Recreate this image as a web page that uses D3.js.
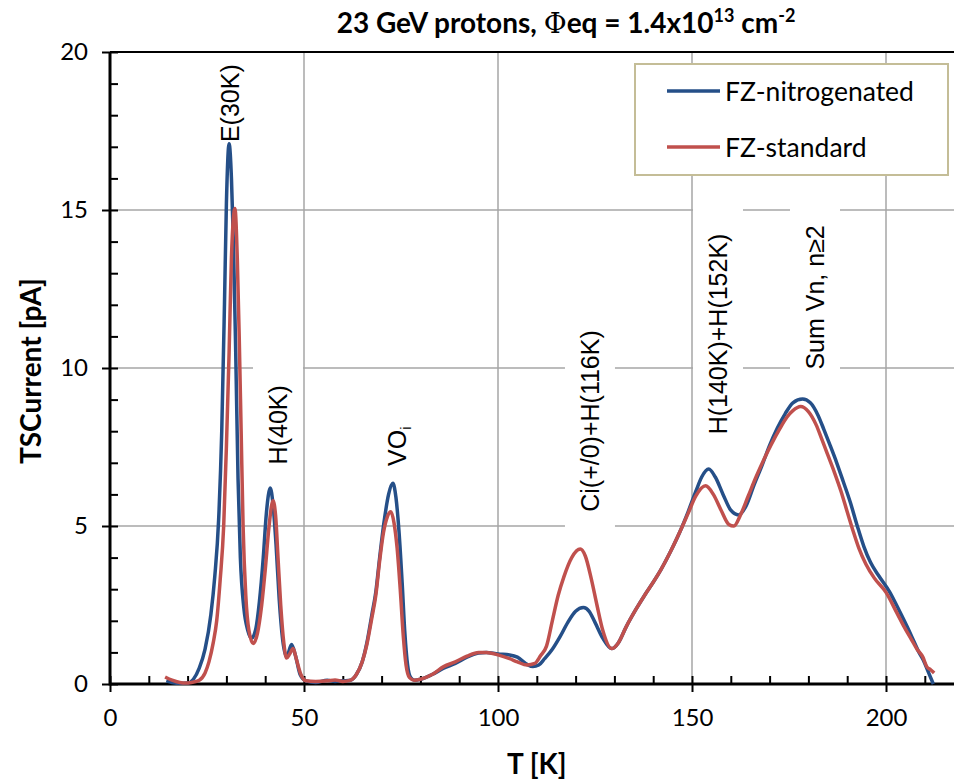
<!DOCTYPE html>
<html>
<head>
<meta charset="utf-8">
<script src="https://cdn.jsdelivr.net/npm/d3@7"></script>
<style>
  body { margin: 0; background: #fff; }
  svg { display: block; }
</style>
</head>
<body>
<div class="tsc"></div>
<script>
// TSC spectra, [T in K, current in pA]
var nitroData = [
  [14.5,0.1],[16,0.05],[18,0.02],[20,0.03],[21.5,0.15],[23,0.5],[24.5,1.1],[26,2.2],[27,3.4],
  [28,5.2],[28.8,8.0],[29.5,12],[30,15.2],[30.7,17.1],[31.3,16],[31.8,14],[32.4,10.5],[33,6.5],
  [33.6,4],[34.5,2.4],[35.5,1.7],[36.5,1.45],[37.5,1.7],[38.5,2.6],[39.5,4],[40.3,5.4],[41.3,6.2],
  [42,5.7],[42.8,4.4],[43.6,2.7],[44.5,1.4],[45.5,0.86],[46.8,1.25],[47.8,0.9],[49,0.3],[50.5,0.1],
  [53,0.05],[56,0.12],[58,0.08],[60,0.1],[62,0.12],[63.5,0.3],[65,0.7],[66.2,1.3],[67.5,2.2],
  [68.5,2.9],[69.5,4],[70.6,5.1],[71.8,6.0],[72.9,6.35],[73.7,5.9],[74.5,4.8],[75.3,3.2],[76,1.6],
  [76.7,0.6],[77.5,0.2],[78.5,0.12],[80,0.15],[83,0.3],[86,0.5],[89,0.65],[92,0.85],[95,0.98],
  [97,1.0],[100,0.95],[103,0.92],[105,0.85],[107.5,0.62],[109,0.55],[110.5,0.6],[112,0.8],
  [114,1.1],[116,1.5],[118,1.95],[120,2.3],[122,2.42],[123.5,2.3],[125,1.95],[127,1.45],
  [129.3,1.12],[131,1.3],[133,1.8],[135.5,2.35],[138,2.85],[140,3.22],[142,3.62],[144.5,4.2],
  [147,4.85],[149,5.45],[151,6.1],[152.5,6.55],[154.3,6.8],[156,6.55],[158,6.0],[160,5.5],
  [162,5.35],[164,5.65],[166,6.3],[168,6.9],[170,7.55],[172,8.1],[174,8.55],[176,8.9],
  [178.5,9.02],[180.5,8.9],[182.5,8.5],[184,8.05],[185.6,7.55],[187.3,7.0],[189,6.4],
  [190.8,5.75],[192.6,5.0],[194.3,4.35],[196,3.85],[198,3.45],[201,2.9],[203.5,2.3],
  [205.5,1.8],[207,1.4],[208.5,1.0],[209.6,0.76],[211,0.35],[212.2,0.0]
];

var standardData = [
  [14.2,0.22],[16,0.12],[18,0.05],[19.5,0.03],[21,0.05],[23,0.12],[24.5,0.35],[25.5,0.7],
  [26.6,1.3],[27.5,2.0],[28.4,3.3],[29.3,5],[30,7.5],[30.7,10.5],[31.3,13.5],[32.2,15.05],
  [32.8,13.5],[33.3,11],[33.8,8],[34.3,5],[35,2.8],[35.8,1.7],[36.9,1.28],[38,1.6],[39,2.4],
  [40,3.6],[41,5.0],[42,5.8],[42.7,5.3],[43.3,4.0],[44,2.5],[44.8,1.3],[45.5,0.82],[46.3,0.95],
  [47.2,1.12],[48,0.8],[49.2,0.3],[50.5,0.1],[53,0.08],[56,0.1],[58,0.13],[60,0.08],[62,0.12],
  [63.5,0.3],[65,0.7],[66.2,1.25],[67.5,2.1],[68.5,2.8],[69.5,3.9],[70.5,4.8],[71.5,5.3],
  [72.4,5.45],[73.2,5.1],[74,4.3],[74.8,3.0],[75.6,1.5],[76.3,0.6],[77.2,0.2],[78.4,0.12],
  [80,0.15],[83,0.3],[86,0.55],[89,0.7],[92,0.88],[95,1.0],[97,1.0],[100,0.92],[103,0.8],
  [105,0.7],[107.5,0.6],[109.5,0.65],[111,0.9],[112.5,1.2],[114,2.0],[115.5,2.8],[117,3.4],
  [119,4.0],[121.2,4.27],[122.5,4.05],[124,3.35],[125.5,2.5],[127,1.7],[129.3,1.12],[131,1.3],
  [133,1.8],[135.5,2.35],[138,2.85],[140,3.22],[142,3.62],[144.5,4.2],[147,4.85],[149,5.4],
  [151,5.95],[153.5,6.27],[155.5,6.0],[157.5,5.5],[159.5,5.05],[160.8,5.0],[162.5,5.35],
  [164.5,5.95],[166.5,6.55],[168.5,7.1],[170.5,7.6],[172.5,8.05],[174.5,8.45],[176,8.65],
  [178,8.78],[180,8.62],[182,8.2],[183.3,7.8],[185,7.25],[186.7,6.7],[188.4,6.1],[190,5.45],
  [191.5,4.85],[193,4.3],[194.8,3.8],[197,3.35],[200,2.9],[202.8,2.25],[204.5,1.85],
  [206.6,1.4],[208,1.1],[209.5,0.85],[210.5,0.55],[211.5,0.45],[212.4,0.35]
];

var seriesNames = ['FZ-nitrogenated', 'FZ-standard'];
var xMajorTicks = [0, 50, 100, 150, 200];
var xMinorTicks = [10, 20, 30, 40, 60, 70, 80, 90, 110, 120, 130, 140, 160, 170, 180, 190, 210];
var yMajorTicks = [0, 5, 10, 15, 20];
var yMinorTicks = [1, 2, 3, 4, 6, 7, 8, 9, 11, 12, 13, 14, 16, 17, 18, 19];
// peak labels: text, subscript, anchor T, anchor current (where the rotated text starts)
var peakNames = ['E(30K)', 'H(40K)', 'VO', 'Ci(+/0)+H(116K)', 'H(140K)+H(152K)', 'Sum Vn, n\u22652'];
var peakSubs  = ['', '', 'i', '', '', ''];
var peakT     = [30.9, 43.3, 74.0, 123.7, 156.7, 181.7];
var peakI     = [17.15, 6.95, 6.9, 5.45, 7.9, 9.95];

var width = 954, height = 780;
var colors = ['#254f88', '#c0504d'];

var x = d3.scaleLinear().domain([0, 220]).range([110, 110 + 220 * 3.88]);
var y = d3.scaleLinear().domain([0, 20]).range([684, 52]);

var svg = d3.select('.tsc')
            .append('svg')
            .attr('width', width)
            .attr('height', height);

// gridlines
svg.append('g').selectAll('line')
   .data(xMajorTicks.filter(function(d) { return d > 0; }))
   .enter().append('line')
   .attr('x1', function(d) { return x(d); }).attr('x2', function(d) { return x(d); })
   .attr('y1', y(20)).attr('y2', y(0))
   .style('stroke', '#a6a6a6').style('stroke-width', 1.5);

svg.append('g').selectAll('line')
   .data([5, 10, 15])
   .enter().append('line')
   .attr('x1', x(0)).attr('x2', width)
   .attr('y1', function(d) { return y(d); }).attr('y2', function(d) { return y(d); })
   .style('stroke', '#a6a6a6').style('stroke-width', 1.5);

// label boxes go above gridlines, texts filled in later
var boxLayer = svg.append('g');

// axes
var xAxis = svg.append('g').attr('transform', 'translate(0,' + y(0) + ')')
   .call(d3.axisBottom(x).tickValues(xMajorTicks).tickSize(8).tickPadding(17));
xAxis.selectAll('.tick line').attr('y1', -8);
var xMinor = svg.append('g').attr('transform', 'translate(0,' + y(0) + ')')
   .call(d3.axisBottom(x).tickValues(xMinorTicks).tickSize(-8).tickFormat(''));

var yAxis = svg.append('g').attr('transform', 'translate(' + x(0) + ',0)')
   .call(d3.axisLeft(y).tickValues(yMajorTicks).tickSize(8).tickPadding(14));
yAxis.selectAll('.tick line').attr('x1', 8);
var yMinor = svg.append('g').attr('transform', 'translate(' + x(0) + ',0)')
   .call(d3.axisLeft(y).tickValues(yMinorTicks).tickSize(-8).tickFormat(''));

[xAxis, xMinor, yAxis, yMinor].forEach(function(a) {
  a.select('.domain').remove();
  a.selectAll('.tick line').style('stroke', '#000').style('stroke-width', 2);
  a.selectAll('text').style('font-family', 'Lato, sans-serif').style('font-size', '24px').style('fill', '#000');
});

svg.append('line').attr('x1', x(0)).attr('x2', width).attr('y1', y(0)).attr('y2', y(0))
   .style('stroke', '#000').style('stroke-width', 3);
svg.append('line').attr('x1', x(0)).attr('x2', x(0)).attr('y1', y(20)).attr('y2', y(0) + 1.5)
   .style('stroke', '#000').style('stroke-width', 3);
svg.append('line').attr('x1', x(0)).attr('x2', width).attr('y1', y(20)).attr('y2', y(20))
   .style('stroke', '#000').style('stroke-width', 2);

// curves
var line = d3.line()
             .x(function(d) { return x(d[0]); })
             .y(function(d) { return y(d[1]); })
             .curve(d3.curveMonotoneX);

svg.selectAll('path.series')
   .data([nitroData, standardData])
   .enter()
   .append('path')
   .attr('class', 'series')
   .attr('d', line)
   .style('fill', 'none')
   .style('stroke', function(d, i) { return colors[i]; })
   .style('stroke-width', 3.5)
   .style('stroke-linejoin', 'round');

// peak labels
peakNames.forEach(function(name, i) {
  var t = svg.append('text')
     .attr('transform', 'translate(' + x(peakT[i]) + ',' + y(peakI[i]) + ') rotate(-90)')
     .attr('dominant-baseline', 'central')
     .style('font-family', '"Liberation Sans", Arial, sans-serif')
     .style('font-size', '25px')
     .text(name);
  if (peakSubs[i]) {
    t.append('tspan').attr('baseline-shift', 'sub').style('font-size', '15px').text(peakSubs[i]);
  }
  var len = t.node().getBBox().width;
  boxLayer.append('rect')
     .attr('x', x(peakT[i]) - 25)
     .attr('y', y(peakI[i]) - len - 45)
     .attr('width', 50)
     .attr('height', len + 61)
     .style('fill', '#fff');
});

// title
var title = svg.append('text')
   .attr('x', 566).attr('y', 33)
   .attr('text-anchor', 'middle')
   .style('font-family', 'Lato, sans-serif')
   .style('font-weight', 'bold')
   .style('font-size', '28px');
title.append('tspan').text('23 GeV protons, ');
title.append('tspan').style('font-family', '"DejaVu Serif", serif').style('font-weight', 'normal').text('\u03A6');
title.append('tspan').text('eq = 1.4x10');
title.append('tspan').attr('baseline-shift', 'super').style('font-size', '18px').text('13');
title.append('tspan').text(' cm');
title.append('tspan').attr('baseline-shift', 'super').style('font-size', '18px').text('-2');

// axis titles
svg.append('text')
   .attr('x', x(110)).attr('y', 774)
   .attr('text-anchor', 'middle')
   .style('font-family', 'Lato, sans-serif').style('font-weight', 'bold').style('font-size', '28px')
   .text('T [K]');

svg.append('text')
   .attr('transform', 'translate(41,' + y(9.9) + ') rotate(-90)')
   .attr('text-anchor', 'middle')
   .style('font-family', 'Lato, sans-serif').style('font-weight', 'bold').style('font-size', '28px')
   .text('TSCurrent [pA]');

// legend
var legend = svg.append('g');
legend.append('rect')
   .attr('x', 635).attr('y', 64).attr('width', 313).attr('height', 111)
   .style('fill', '#fff').style('stroke', '#c4bd97').style('stroke-width', 2);
seriesNames.forEach(function(name, i) {
  var ly = 91 + i * 56;
  legend.append('line')
     .attr('x1', 667).attr('x2', 720).attr('y1', ly).attr('y2', ly)
     .style('stroke', colors[i]).style('stroke-width', 3.5);
  legend.append('text')
     .attr('x', 725).attr('y', ly).attr('dominant-baseline', 'central')
     .style('font-family', 'Lato, sans-serif').style('font-size', '26.5px')
     .text(name);
});
</script>
</body>
</html>
